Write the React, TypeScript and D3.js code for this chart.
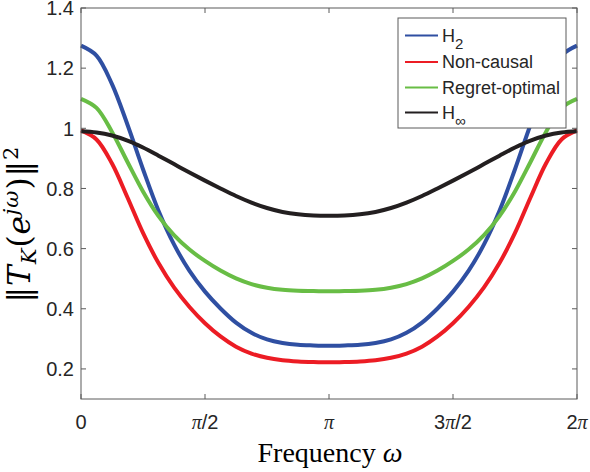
import * as d3 from 'd3';
import React from 'react';

const W = 590;
const H = 472;
const margin = { top: 8, right: 13, bottom: 73, left: 81 };
const width = W - margin.left - margin.right;
const height = H - margin.top - margin.bottom;

// sample positions, in units of pi/16
const sixteenths = [
  0, 1, 2, 3, 4, 5, 6, 7, 8, 9, 10, 11, 12, 13, 14, 15, 16,
  17, 18, 19, 20, 21, 22, 23, 24, 25, 26, 27, 28, 29, 30, 31, 32,
];

const h2 = [
  1.275, 1.242, 1.147, 1.012, 0.864, 0.726, 0.614, 0.526, 0.457, 0.401, 0.354, 0.32, 0.298, 0.286, 0.28, 0.278, 0.277,
  0.278, 0.28, 0.286, 0.298, 0.32, 0.354, 0.401, 0.457, 0.526, 0.614, 0.726, 0.864, 1.012, 1.147, 1.242, 1.275,
];
const nonCausal = [
  0.993, 0.963, 0.883, 0.77, 0.652, 0.552, 0.471, 0.406, 0.352, 0.308, 0.274, 0.251, 0.237, 0.229, 0.225, 0.223, 0.222,
  0.223, 0.225, 0.229, 0.237, 0.251, 0.274, 0.308, 0.352, 0.406, 0.471, 0.552, 0.652, 0.77, 0.883, 0.963, 0.993,
];
const regretOptimal = [
  1.098, 1.068, 0.988, 0.888, 0.79, 0.708, 0.645, 0.597, 0.559, 0.527, 0.501, 0.482, 0.47, 0.463, 0.46, 0.459, 0.458,
  0.459, 0.46, 0.463, 0.47, 0.482, 0.501, 0.527, 0.559, 0.597, 0.645, 0.708, 0.79, 0.888, 0.988, 1.068, 1.098,
];
const hInf = [
  0.99, 0.986, 0.976, 0.959, 0.936, 0.909, 0.881, 0.853, 0.826, 0.8, 0.775, 0.753, 0.735, 0.722, 0.714, 0.71, 0.709,
  0.71, 0.714, 0.722, 0.735, 0.753, 0.775, 0.8, 0.826, 0.853, 0.881, 0.909, 0.936, 0.959, 0.976, 0.986, 0.99,
];

const xTicks = [0, 0.5, 1, 1.5, 2]; // multiples of pi
const xTickLabels = ['0', 'π/2', 'π', '3π/2', '2π'];
const yTicks = [0.2, 0.4, 0.6, 0.8, 1, 1.2, 1.4];

const series = [
  { name: 'H', sub: '2', values: h2, color: '#2f4fa2' },
  { name: 'Non-causal', sub: '', values: nonCausal, color: '#ec1c24' },
  { name: 'Regret-optimal', sub: '', values: regretOptimal, color: '#68bd45' },
  { name: 'H', sub: '∞', values: hInf, color: '#231f20' },
];

const axisColor = '#5a5a5a';
const textColor = '#262626';
const sans = '"Liberation Sans", Arial, sans-serif';
const serif = '"Liberation Serif", "DejaVu Serif", serif';

const x = d3.scaleLinear().domain([0, 2 * Math.PI]).range([0, width]);
const y = d3.scaleLinear().domain([0.1, 1.4]).range([height, 0]);

const line = d3
  .line<number>()
  .x((_, i) => x((sixteenths[i] * Math.PI) / 16))
  .y((d) => y(d))
  .curve(d3.curveCatmullRom.alpha(0.5));

const piLabel = (label: string) =>
  label.split(/(π)/).filter((s) => s !== '').map((s, i) =>
    s === 'π' ? (
      <tspan key={i} fontFamily={serif} fontStyle="italic">
        π
      </tspan>
    ) : (
      <tspan key={i}>{s}</tspan>
    )
  );

const App = () => {
  const tickLen = 5;
  const legend = { x: 398, y: 18, w: 168, h: 110 };
  const rowY = [35.5, 62, 87.5, 112.5];

  return (
    <svg width={W} height={H} style={{ position: 'absolute', left: 0, top: 0, background: '#fff' }}>
      <g transform={`translate(${margin.left},${margin.top})`}>
        {series.map((s) => (
          <path key={s.name + s.sub} d={line(s.values) ?? ''} fill="none" stroke={s.color} strokeWidth={4} />
        ))}

        <rect x={0} y={0} width={width} height={height} fill="none" stroke={axisColor} strokeWidth={1} />

        {xTicks.map((t, i) => (
          <g key={'x' + t}>
            <line x1={x(t * Math.PI)} x2={x(t * Math.PI)} y1={height} y2={height - tickLen} stroke={axisColor} />
            <line x1={x(t * Math.PI)} x2={x(t * Math.PI)} y1={0} y2={tickLen} stroke={axisColor} />
            <text
              x={x(t * Math.PI)}
              y={height + 30}
              textAnchor="middle"
              fontFamily={sans}
              fontSize={20}
              fill={textColor}
            >
              {piLabel(xTickLabels[i])}
            </text>
          </g>
        ))}

        {yTicks.map((t) => (
          <g key={'y' + t}>
            <line x1={0} x2={tickLen} y1={y(t)} y2={y(t)} stroke={axisColor} />
            <line x1={width} x2={width - tickLen} y1={y(t)} y2={y(t)} stroke={axisColor} />
            <text
              x={-7}
              y={y(t)}
              dy="0.36em"
              textAnchor="end"
              fontFamily={sans}
              fontSize={20}
              fill={textColor}
            >
              {t}
            </text>
          </g>
        ))}
      </g>

      {/* legend */}
      <g>
        <rect x={legend.x} y={legend.y} width={legend.w} height={legend.h} fill="#fff" stroke={axisColor} />
        {series.map((s, i) => (
          <g key={'leg' + i}>
            <line x1={405} x2={438} y1={rowY[i]} y2={rowY[i]} stroke={s.color} strokeWidth={2} />
            <text x={442} y={rowY[i]} dy="0.36em" fontFamily={sans} fontSize={18} fill={textColor}>
              {s.name}
              {s.sub && (
                <tspan fontSize={15} dy={7}>
                  {s.sub}
                </tspan>
              )}
            </text>
          </g>
        ))}
      </g>

      {/* x label */}
      <text x={330} y={462} textAnchor="middle" fontFamily={serif} fontSize={28} fill="#000">
        Frequency <tspan fontStyle="italic">ω</tspan>
      </text>

      {/* y label */}
      <text
        transform="translate(30,224) rotate(-90)"
        textAnchor="middle"
        fontFamily='"DejaVu Serif", serif'
        fontSize={31}
        fill="#000"
        letterSpacing={1}
      >
        <tspan>‖</tspan>
        <tspan fontStyle="italic">T</tspan>
        <tspan fontStyle="italic" fontSize={21} dy={6}>K</tspan>
        <tspan dy={-6}>(</tspan>
        <tspan fontStyle="italic">e</tspan>
        <tspan fontStyle="italic" fontSize={21} dy={-12}>jω</tspan>
        <tspan dy={12}>)‖</tspan>
        <tspan fontSize={21} dy={-12}>2</tspan>
      </text>
    </svg>
  );
};

export default App;
